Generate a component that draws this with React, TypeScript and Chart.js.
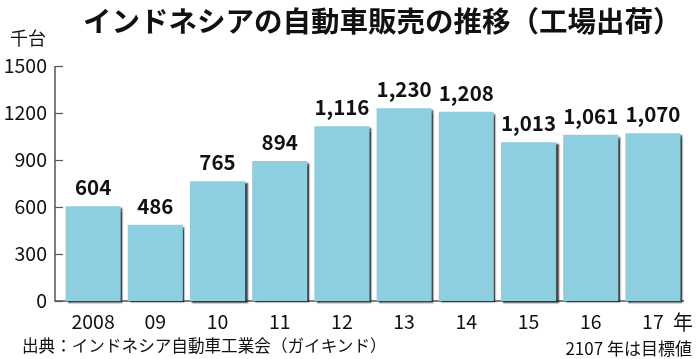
import React, { useEffect, useRef } from "react";
import { Chart, registerables } from "chart.js";

Chart.register(...registerables);

const categories = ["2008", "09", "10", "11", "12", "13", "14", "15", "16", "17"];
const sales = [604, 486, 765, 894, 1116, 1230, 1208, 1013, 1061, 1070];
const yTicks = [0, 300, 600, 900, 1200, 1500];
const titleText = "インドネシアの自動車販売の推移（工場出荷）";
const unitText = "千台";
const sourceText = "出典：インドネシア自動車工業会（ガイキンド）";
const noteText = "2107 年は目標値";
const yearSuffix = "年";

const FONT = '"Noto Sans CJK JP", "Noto Sans", sans-serif';
const BAR_COLOR = "#8DCFE0";
const AXIS_COLOR = "#555555";

export default function App() {
  const canvasRef = useRef<HTMLCanvasElement | null>(null);

  useEffect(() => {
    document.body.style.margin = "0";
    const canvas = canvasRef.current;
    if (!canvas) return;

    const decorPlugin = {
      id: "decor",
      beforeDatasetsDraw(chart: any) {
        const ctx = chart.ctx;
        const y = chart.scales.y;
        const area = chart.chartArea;
        const axisX = area.left - 7;
        ctx.save();
        ctx.strokeStyle = AXIS_COLOR;
        ctx.lineWidth = 1.5;
        ctx.beginPath();
        ctx.moveTo(axisX, y.getPixelForValue(yTicks[yTicks.length - 1]));
        ctx.lineTo(axisX, y.getPixelForValue(0));
        ctx.lineTo(area.right, y.getPixelForValue(0));
        ctx.stroke();
        ctx.lineWidth = 1.2;
        for (const t of yTicks) {
          const py = Math.round(y.getPixelForValue(t)) + 0.5;
          ctx.beginPath();
          ctx.moveTo(axisX, py);
          ctx.lineTo(axisX + 8, py);
          ctx.stroke();
        }
        ctx.restore();
        ctx.save();
        ctx.shadowColor = "rgba(40,40,40,0.85)";
        ctx.shadowOffsetX = 2.5;
        ctx.shadowOffsetY = 2;
        ctx.shadowBlur = 1.5;
      },
      afterDatasetsDraw(chart: any) {
        const ctx = chart.ctx;
        ctx.restore();
        const meta = chart.getDatasetMeta(0);
        ctx.save();
        ctx.fillStyle = "#111111";
        ctx.font = `bold 20.5px ${FONT}`;
        ctx.textAlign = "center";
        ctx.textBaseline = "alphabetic";
        meta.data.forEach((bar: any, i: number) => {
          ctx.fillText(sales[i].toLocaleString("en-US"), bar.x, bar.y - 11);
        });
        ctx.restore();
      },
    };

    const chart = new Chart(canvas, {
      type: "bar",
      data: {
        labels: categories,
        datasets: [
          {
            data: sales,
            backgroundColor: BAR_COLOR,
            borderWidth: 0,
            categoryPercentage: 1,
            barPercentage: 0.885,
            clip: false as any,
          },
        ],
      },
      options: {
        animation: false,
        responsive: false,
        maintainAspectRatio: false,
        layout: { padding: { top: 66, right: 16, bottom: 0, left: 0 } },
        plugins: {
          legend: { display: false },
          tooltip: { enabled: false },
          title: { display: false },
        },
        scales: {
          x: {
            grid: { display: false, drawTicks: false },
            border: { display: false },
            ticks: {
              color: "#111111",
              font: { family: FONT, size: 19.5 },
              padding: 9,
              maxRotation: 0,
              autoSkip: false,
            },
            afterFit(scale: any) {
              scale.height = 58;
            },
          },
          y: {
            min: 0,
            max: 1500,
            grid: { display: false, drawTicks: false },
            border: { display: false },
            ticks: {
              stepSize: 300,
              color: "#111111",
              font: { family: FONT, size: 19.5 },
              padding: 15,
              callback: (v: any) => String(v),
            },
            afterFit(scale: any) {
              scale.width = 62;
            },
          },
        },
      },
      plugins: [decorPlugin],
    });

    return () => chart.destroy();
  }, []);

  const textBase: React.CSSProperties = {
    position: "absolute",
    fontFamily: FONT,
    color: "#111111",
    whiteSpace: "nowrap",
    lineHeight: 1,
  };

  return (
    <div style={{ position: "relative", width: 700, height: 359, background: "#ffffff", overflow: "hidden" }}>
      <canvas ref={canvasRef} width={700} height={359} style={{ display: "block" }} />
      <div style={{ ...textBase, left: 83, top: 6, fontSize: 28.5, fontWeight: 700 }}>{titleText}</div>
      <div style={{ ...textBase, left: 10, top: 28, fontSize: 18 }}>{unitText}</div>
      <div style={{ ...textBase, left: 22, top: 337, fontSize: 16.6 }}>{sourceText}</div>
      <div style={{ ...textBase, right: 8, top: 339, fontSize: 17 }}>{noteText}</div>
      <div style={{ ...textBase, left: 673, top: 312, fontSize: 20 }}>{yearSuffix}</div>
    </div>
  );
}
